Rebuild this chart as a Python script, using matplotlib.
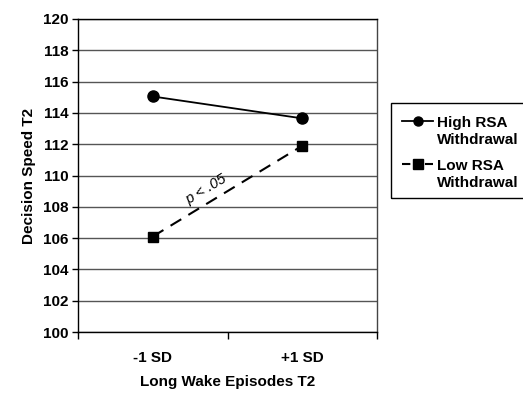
import numpy as np
import matplotlib.pyplot as plt
from matplotlib.lines import Line2D
from matplotlib.patches import Rectangle

plt.rcParams['font.family'] = ['Liberation Sans', 'DejaVu Sans']

categories = ['-1 SD', '+1 SD']
high_rsa = [115.05, 113.65]
low_rsa = [106.1, 111.9]
y_ticks = list(range(100, 121, 2))
legend_labels = ['High RSA\nWithdrawal', 'Low RSA\nWithdrawal']

W, H = 523, 393
fig = plt.figure(figsize=(W / 100, H / 100), dpi=100)
ax = fig.add_axes([78 / W, 1 - 332 / H, 299 / W, 313 / H])

x = np.arange(len(categories))
ax.plot(x, high_rsa, color='black', lw=1.3, marker='o', ms=8, zorder=3)
ax.plot(x, low_rsa, color='black', lw=1.5, ls=(0, (6, 4)), marker='s', ms=7.5, zorder=3)

ax.set_xlim(-0.5, 1.5)
ax.set_ylim(100, 120)
ax.set_yticks(y_ticks)
ax.yaxis.grid(True, color='#555555', lw=1)
ax.set_axisbelow(True)

# category labels without marks, boundary ticks as minor ticks
ax.set_xticks(x)
ax.set_xticklabels(categories)
ax.tick_params(axis='x', which='major', length=0, pad=14)
ax.set_xticks([-0.5, 0.5, 1.5], minor=True)
ax.tick_params(axis='x', which='minor', direction='out', length=5, width=1)
ax.tick_params(axis='y', direction='out', length=4, width=1, pad=3)

for lbl in ax.get_xticklabels() + ax.get_yticklabels():
    lbl.set_fontweight('bold')
    lbl.set_fontsize(11)

for s in ax.spines.values():
    s.set_linewidth(1)
ax.spines['right'].set_color('#444444')

ax.set_xlabel('Long Wake Episodes T2', fontweight='bold', fontsize=11, labelpad=7)
ax.set_ylabel('Decision Speed T2', fontweight='bold', fontsize=11, labelpad=5)

ax.text(0.36, 109.1, 'p < .05', style='italic', fontsize=10.5, rotation=31,
        ha='center', va='center')


# legend drawn by hand: Excel puts the marker on the first text line
def fx(px):
    return px / W


def fy(py):
    return 1 - py / H


fig.add_artist(Rectangle((fx(391), fy(198)), fx(140), 95 / H, transform=fig.transFigure,
                         fill=False, edgecolor='black', lw=1))
styles = [dict(marker='o', ms=6.5, ls='-', lw=1.3),
          dict(marker='s', ms=6.5, ls=(0, (4, 1.5)), lw=1.5)]
rows = [121, 164]
for lab, st, ry in zip(legend_labels, styles, rows):
    fig.add_artist(Line2D([fx(402), fx(433)], [fy(ry), fy(ry)], color='black',
                          transform=fig.transFigure, ls=st['ls'], lw=st['lw']))
    fig.add_artist(Line2D([fx(417.5)], [fy(ry)], color='black', marker=st['marker'],
                          ms=st['ms'], ls='none', transform=fig.transFigure))
    fig.text(fx(437), fy(ry - 5), lab, fontweight='bold', fontsize=11, va='top',
             ha='left', linespacing=1.3)

fig.savefig('out.png', dpi=100)
